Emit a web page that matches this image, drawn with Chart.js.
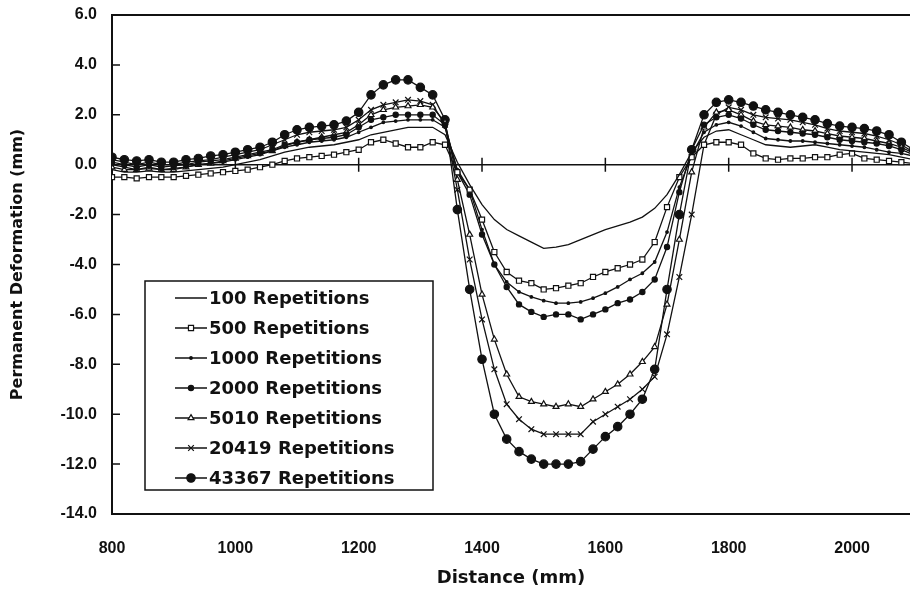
<!DOCTYPE html>
<html>
<head>
<meta charset="utf-8">
<script src="https://cdn.jsdelivr.net/npm/chart.js@4.4.1/dist/chart.umd.min.js"></script>
<style>
  html, body { margin: 0; padding: 0; background: #fff; }
  #wrap { width: 910px; height: 592px; }
</style>
</head>
<body>
<div id="wrap"><canvas id="chart"></canvas></div>
<script>
// distance along the section (mm)
const distance = [
  800, 820, 840, 860, 880, 900, 920, 940, 960, 980, 1000,
  1020, 1040, 1060, 1080, 1100, 1120, 1140, 1160, 1180, 1200,
  1220, 1240, 1260, 1280, 1300, 1320, 1340, 1360, 1380, 1400,
  1420, 1440, 1460, 1480, 1500, 1520, 1540, 1560, 1580, 1600,
  1620, 1640, 1660, 1680, 1700, 1720, 1740, 1760, 1780, 1800,
  1820, 1840, 1860, 1880, 1900, 1920, 1940, 1960, 1980, 2000,
  2020, 2040, 2060, 2080, 2100
];

// permanent deformation (mm), one array per number of repetitions
const rep100 = [
  -0.2, -0.3, -0.3, -0.25, -0.3, -0.3, -0.25, -0.2, -0.15, -0.1, 0.0,
  0.1, 0.2, 0.35, 0.5, 0.6, 0.7, 0.75, 0.8, 0.9, 1.0,
  1.2, 1.3, 1.4, 1.5, 1.5, 1.5, 1.2, 0.1, -0.8, -1.6,
  -2.2, -2.6, -2.85, -3.1, -3.35, -3.3, -3.2, -3.0, -2.8, -2.6,
  -2.45, -2.3, -2.1, -1.75, -1.2, -0.4, 0.5, 1.1, 1.35, 1.4,
  1.2, 1.0, 0.8, 0.75, 0.7, 0.75, 0.8, 0.7, 0.6, 0.55,
  0.5, 0.45, 0.4, 0.3, 0.2
];
const rep500 = [
  -0.5, -0.5, -0.55, -0.5, -0.5, -0.5, -0.45, -0.4, -0.35, -0.3, -0.25,
  -0.2, -0.1, 0.0, 0.15, 0.25, 0.3, 0.35, 0.4, 0.5, 0.6,
  0.9, 1.0, 0.85, 0.7, 0.7, 0.9, 0.8, -0.3, -1.0, -2.2,
  -3.5, -4.3, -4.65, -4.75, -5.0, -4.95, -4.85, -4.75, -4.5, -4.3,
  -4.15, -4.0, -3.8, -3.1, -1.7, -0.5, 0.3, 0.8, 0.9, 0.9,
  0.8, 0.45, 0.25, 0.2, 0.25, 0.25, 0.3, 0.3, 0.4, 0.45,
  0.25, 0.2, 0.15, 0.1, 0.05
];
const rep1000 = [
  0.0, -0.1, -0.2, -0.1, -0.2, -0.15, -0.1, 0.0, 0.05, 0.1, 0.2,
  0.3, 0.4, 0.55, 0.7, 0.8, 0.9, 0.95, 1.0, 1.1, 1.3,
  1.5, 1.7, 1.75, 1.8, 1.8, 1.8, 1.5, -0.2, -1.0, -2.6,
  -4.0, -4.7, -5.1, -5.3, -5.45, -5.55, -5.55, -5.5, -5.35, -5.15,
  -4.9, -4.6, -4.35, -3.9, -2.7, -0.9, 0.4, 1.3, 1.6, 1.7,
  1.55, 1.3, 1.05, 1.0, 0.95, 0.95, 0.9, 0.85, 0.8, 0.75,
  0.7, 0.6, 0.5, 0.45, 0.35
];
const rep2000 = [
  0.1, 0.0, -0.1, 0.0, -0.1, -0.05, 0.0, 0.1, 0.15, 0.2, 0.3,
  0.4, 0.5, 0.6, 0.8, 0.9, 1.0, 1.05, 1.1, 1.2, 1.5,
  1.8, 1.9, 2.0, 2.0, 2.0, 2.0, 1.6, -0.3, -1.2, -2.8,
  -4.0, -4.9, -5.6, -5.9, -6.1, -6.0, -6.0, -6.2, -6.0, -5.8,
  -5.55, -5.4, -5.1, -4.6, -3.3, -1.1, 0.6, 1.6, 1.9, 2.0,
  1.85, 1.6, 1.4, 1.35, 1.3, 1.25, 1.2, 1.1, 1.0, 0.95,
  0.9, 0.85, 0.75, 0.6, 0.4
];
const rep5010 = [
  -0.1, -0.2, -0.2, -0.15, -0.2, -0.2, -0.1, 0.0, 0.05, 0.15, 0.25,
  0.35, 0.45, 0.55, 0.75, 0.9, 1.0, 1.1, 1.2, 1.3, 1.6,
  2.0, 2.2, 2.3, 2.35, 2.4, 2.3, 1.7, -0.6, -2.8, -5.2,
  -7.0, -8.4, -9.3, -9.5, -9.6, -9.7, -9.6, -9.7, -9.4, -9.1,
  -8.8, -8.4, -7.9, -7.3, -5.6, -3.0, -0.3, 1.5, 2.1, 2.2,
  2.0, 1.75, 1.6, 1.55, 1.5, 1.4, 1.35, 1.25, 1.15, 1.1,
  1.05, 0.95, 0.85, 0.7, 0.45
];
const rep20419 = [
  0.2, 0.1, 0.0, 0.1, 0.0, 0.0, 0.1, 0.15, 0.2, 0.3, 0.4,
  0.5, 0.6, 0.8, 1.0, 1.2, 1.3, 1.35, 1.4, 1.5, 1.8,
  2.2, 2.4, 2.5, 2.6, 2.55, 2.4, 1.6, -1.0, -3.8, -6.2,
  -8.2, -9.6, -10.2, -10.6, -10.8, -10.8, -10.8, -10.8, -10.3, -10.0,
  -9.7, -9.4, -9.0, -8.5, -6.8, -4.5, -2.0, 0.8, 2.0, 2.3,
  2.2, 2.0, 1.9, 1.85, 1.8, 1.7, 1.6, 1.45, 1.35, 1.3,
  1.25, 1.15, 1.0, 0.8, 0.5
];
const rep43367 = [
  0.3, 0.2, 0.15, 0.2, 0.1, 0.1, 0.2, 0.25, 0.35, 0.4, 0.5,
  0.6, 0.7, 0.9, 1.2, 1.4, 1.5, 1.55, 1.6, 1.75, 2.1,
  2.8, 3.2, 3.4, 3.4, 3.1, 2.8, 1.8, -1.8, -5.0, -7.8,
  -10.0, -11.0, -11.5, -11.8, -12.0, -12.0, -12.0, -11.9, -11.4, -10.9,
  -10.5, -10.0, -9.4, -8.2, -5.0, -2.0, 0.6, 2.0, 2.5, 2.6,
  2.5, 2.35, 2.2, 2.1, 2.0, 1.9, 1.8, 1.65, 1.55, 1.5,
  1.45, 1.35, 1.2, 0.9, 0.6
];

const seriesLabels = [
  '100 Repetitions', '500 Repetitions', '1000 Repetitions', '2000 Repetitions',
  '5010 Repetitions', '20419 Repetitions', '43367 Repetitions'
];
const seriesValues = [rep100, rep500, rep1000, rep2000, rep5010, rep20419, rep43367];

const INK = '#111';

// marker look per series
const markers = [
  { pointStyle: 'circle', pointRadius: 0, fill: INK },
  { pointStyle: 'rect', pointRadius: 3.6, fill: '#fff' },
  { pointStyle: 'circle', pointRadius: 1.3, fill: INK },
  { pointStyle: 'circle', pointRadius: 2.6, fill: INK },
  { pointStyle: 'triangle', pointRadius: 3.4, fill: '#fff' },
  { pointStyle: 'crossRot', pointRadius: 4, fill: INK },
  { pointStyle: 'circle', pointRadius: 4.2, fill: INK }
];

const datasets = seriesLabels.map((label, i) => ({
  label: label,
  data: distance.map((d, j) => ({ x: d, y: seriesValues[i][j] })),
  borderColor: INK,
  borderWidth: 1.3,
  backgroundColor: markers[i].fill,
  pointStyle: markers[i].pointStyle,
  pointRadius: markers[i].pointRadius,
  pointBorderColor: INK,
  pointBackgroundColor: markers[i].fill,
  pointBorderWidth: 1.2,
  tension: 0,
  fill: false,
}));

// zero line with crossing ticks, inward y ticks, frame
const framePlugin = {
  id: 'frame',
  beforeDatasetsDraw(chart) {
    const { ctx, chartArea: a, scales: { x, y } } = chart;
    ctx.save();
    ctx.strokeStyle = INK;
    ctx.lineWidth = 1.5;
    const y0 = y.getPixelForValue(0);
    ctx.beginPath();
    ctx.moveTo(a.left, y0);
    ctx.lineTo(a.right, y0);
    x.ticks.forEach(t => {
      const px = x.getPixelForValue(t.value);
      if (px > a.left + 2) {
        ctx.moveTo(px, y0 - 7);
        ctx.lineTo(px, y0 + 7);
      }
    });
    y.ticks.forEach(t => {
      const py = y.getPixelForValue(t.value);
      ctx.moveTo(a.left, py);
      ctx.lineTo(a.left + 8, py);
    });
    ctx.stroke();

    ctx.lineWidth = 2;
    ctx.beginPath();
    ctx.moveTo(a.right, a.top);
    ctx.lineTo(a.left, a.top);
    ctx.lineTo(a.left, a.bottom);
    ctx.lineTo(a.right, a.bottom);
    ctx.stroke();
    ctx.restore();
  }
};

// boxed legend inside the plot, lower left
const boxLegend = {
  id: 'boxLegend',
  afterDatasetsDraw(chart) {
    const ctx = chart.ctx;
    const box = { left: 145, top: 281, right: 433, bottom: 490 };
    ctx.save();
    ctx.fillStyle = '#fff';
    ctx.fillRect(box.left, box.top, box.right - box.left, box.bottom - box.top);
    ctx.strokeStyle = INK;
    ctx.lineWidth = 1.5;
    ctx.strokeRect(box.left, box.top, box.right - box.left, box.bottom - box.top);

    ctx.font = 'bold 18px "DejaVu Sans", sans-serif';
    ctx.textBaseline = 'middle';
    ctx.textAlign = 'left';
    chart.data.datasets.forEach((ds, i) => {
      const rowY = 298 + i * 30;
      ctx.strokeStyle = INK;
      ctx.lineWidth = 1.5;
      ctx.beginPath();
      ctx.moveTo(175, rowY);
      ctx.lineTo(207, rowY);
      ctx.stroke();
      if (ds.pointRadius > 0) {
        ctx.fillStyle = ds.pointBackgroundColor;
        ctx.lineWidth = ds.pointBorderWidth;
        Chart.helpers.drawPoint(ctx, {
          pointStyle: ds.pointStyle,
          radius: ds.pointRadius,
          rotation: 0,
          borderWidth: ds.pointBorderWidth
        }, 191, rowY);
      }
      ctx.fillStyle = INK;
      ctx.fillText(ds.label, 209, rowY + 1);
    });
    ctx.restore();
  }
};

new Chart(document.getElementById('chart'), {
  type: 'line',
  data: { datasets: datasets },
  plugins: [framePlugin, boxLegend],
  options: {
    responsive: true,
    maintainAspectRatio: false,
    animation: false,
    // the plot runs off the right edge of the original figure
    layout: { autoPadding: false, padding: { top: 15, right: 0, bottom: 0, left: 0 } },
    plugins: {
      legend: { display: false },
      tooltip: { enabled: false },
    },
    scales: {
      x: {
        type: 'linear',
        min: 800,
        max: 2094,
        grid: { display: false, drawTicks: false },
        border: { display: false },
        afterBuildTicks: scale => {
          // only the round 200 mm ticks, not the clipped right edge
          scale.ticks = scale.ticks.filter(t => t.value % 200 === 0);
        },
        ticks: {
          stepSize: 200,
          padding: 25,
          color: INK,
          font: { family: '"Liberation Sans", Arial, sans-serif', size: 16, weight: 'bold' },
          callback: v => String(v),
        },
        title: {
          display: true,
          text: 'Distance (mm)',
          color: INK,
          font: { family: '"DejaVu Sans", sans-serif', size: 18, weight: 'bold' },
          padding: { top: 0, bottom: 3 },
        },
        afterFit: scale => {
          scale.height = 78;
          scale.paddingLeft = 0;
          scale.paddingRight = 0;
        },
      },
      y: {
        min: -14,
        max: 6,
        grid: { display: false, drawTicks: false },
        border: { display: false },
        ticks: {
          stepSize: 2,
          padding: 15,
          color: INK,
          font: { family: '"Liberation Sans", Arial, sans-serif', size: 16, weight: 'bold' },
          callback: v => v.toFixed(1),
        },
        title: {
          display: true,
          text: 'Permanent Deformation (mm)',
          color: INK,
          font: { family: '"DejaVu Sans", sans-serif', size: 16, weight: 'bold' },
          padding: { top: 8, bottom: 0 },
        },
        afterFit: scale => {
          scale.width = 112;
          scale.paddingTop = 0;
          scale.paddingBottom = 0;
        },
      },
    },
  },
});
</script>
</body>
</html>
